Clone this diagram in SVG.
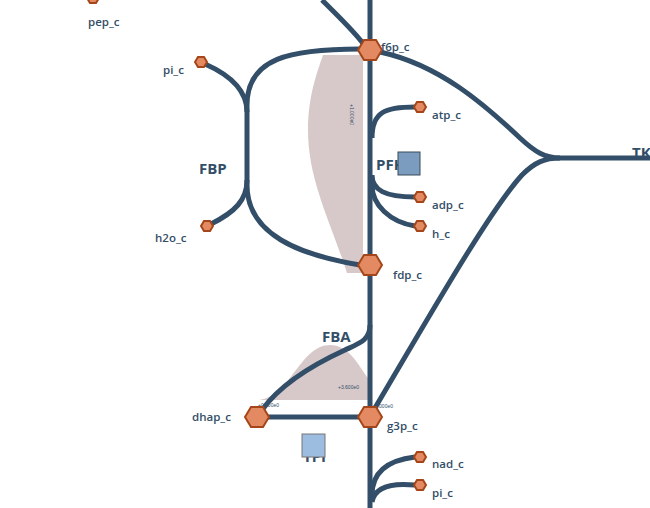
<svg xmlns="http://www.w3.org/2000/svg" width="650" height="508" viewBox="0 0 650 508">
<style>
.c{fill:none;stroke:#334e68;stroke-width:5;stroke-linecap:butt}
.m{fill:#e38a62;stroke:#a5461a;stroke-width:2}
.ml{font-family:"Open Sans",sans-serif;font-weight:600;font-size:11.5px;fill:#334e68}
.rl{font-family:"Open Sans",sans-serif;font-weight:700;font-size:15px;fill:#334e68}
.n{font-family:"Liberation Sans",sans-serif;font-size:5px;fill:#334e68}
.sh{fill:#d7c9c9}
</style>
<defs>
<polygon id="hb" points="-12,0 -6,-10 6,-10 12,0 6,10 -6,10"/>
<polygon id="hs" points="-6,0 -3,-5 3,-5 6,0 3,5 -3,5"/>
</defs>
<rect width="650" height="508" fill="#fff"/>
<g id="shading">
<path class="sh" d="M323 55 L363 55 L363 273 L347 273 C330 220 308 180 308 130 C308 95 318 70 323 55 Z"/>
<path class="sh" d="M258 400 C290 398 300 345 330 345 C350 345 360 368 368 378 L368 400 Z"/>
</g>
<g id="connectors">
<path class="c" d="M370 0 L370 508"/>
<path class="c" d="M322 0 C340 18 355 32 365 46"/>
<path class="c" d="M360 49 C290 49 247 58 247 105 L247 185 C247 235 300 255 360 265"/>
<path class="c" d="M205 64 C230 75 247 90 247 112"/>
<path class="c" d="M211 224 C235 212 247 200 247 180"/>
<path class="c" d="M415 107 C385 107 372 112 372 138"/>
<path class="c" d="M415 197 C385 197 372 190 372 175"/>
<path class="c" d="M415 226 C390 222 372 205 372 185"/>
<path class="c" d="M380 52 C440 65 485 105 520 138 C535 152 545 158 560 158 L650 158"/>
<path class="c" d="M375 408 C430 315 490 210 522 175 C535 162 545 158 560 158"/>
<path class="c" d="M370 325 C370 340 360 343 345 350 C310 366 280 385 262 410"/>
<path class="c" d="M257 417 L370 417"/>
<path class="c" d="M415 457 C390 460 372 470 372 495"/>
<path class="c" d="M415 485 C395 483 375 485 372 502"/>
</g>
<g id="numbers">
<text class="n" transform="translate(350,104) rotate(90)">+1.000e0</text>
<text class="n" x="258" y="407">+0.000e0</text>
<text class="n" x="338" y="389">+3.600e0</text>
<text class="n" x="372" y="408">+0.000e0</text>
</g>
<g id="pep_c"><use href="#hs" class="m" x="93" y="-2"/><text class="ml" x="88" y="26">pep_c</text></g>
<g id="pi_c_1"><use href="#hs" class="m" x="201" y="62"/><text class="ml" x="163" y="74">pi_c</text></g>
<g id="h2o_c"><use href="#hs" class="m" x="207" y="226"/><text class="ml" x="155" y="242">h2o_c</text></g>
<g id="atp_c"><use href="#hs" class="m" x="420" y="107"/><text class="ml" x="432" y="119">atp_c</text></g>
<g id="adp_c"><use href="#hs" class="m" x="420" y="197"/><text class="ml" x="432" y="209">adp_c</text></g>
<g id="h_c"><use href="#hs" class="m" x="420" y="226"/><text class="ml" x="432" y="238">h_c</text></g>
<g id="nad_c"><use href="#hs" class="m" x="420" y="457"/><text class="ml" x="432" y="468">nad_c</text></g>
<g id="pi_c_2"><use href="#hs" class="m" x="420" y="485"/><text class="ml" x="432" y="497">pi_c</text></g>
<g id="f6p_c"><use href="#hb" class="m" x="370" y="50"/><text class="ml" x="381" y="51">f6p_c</text></g>
<g id="fdp_c"><use href="#hb" class="m" x="370" y="265"/><text class="ml" x="393" y="279">fdp_c</text></g>
<g id="g3p_c"><use href="#hb" class="m" x="370" y="417"/><text class="ml" x="387" y="430">g3p_c</text></g>
<g id="dhap_c"><use href="#hb" class="m" x="257" y="417"/><text class="ml" x="192" y="421">dhap_c</text></g>
<g id="FBP"><text class="rl" x="199" y="174">FBP</text></g>
<g id="FBA"><text class="rl" x="322" y="342">FBA</text></g>
<g id="PFK"><text class="rl" x="376" y="170">PFK</text><rect x="398" y="152" width="22" height="23" fill="#7b9cbf" stroke="#3a4a5a" stroke-width="1"/></g>
<g id="TKT"><text class="rl" x="632" y="158">TKT</text></g>
<g id="TPI"><text class="rl" x="303" y="462">TPI</text><rect x="302" y="434" width="23" height="23" fill="#9dbde0" stroke="#777" stroke-width="1"/></g>
</svg>
